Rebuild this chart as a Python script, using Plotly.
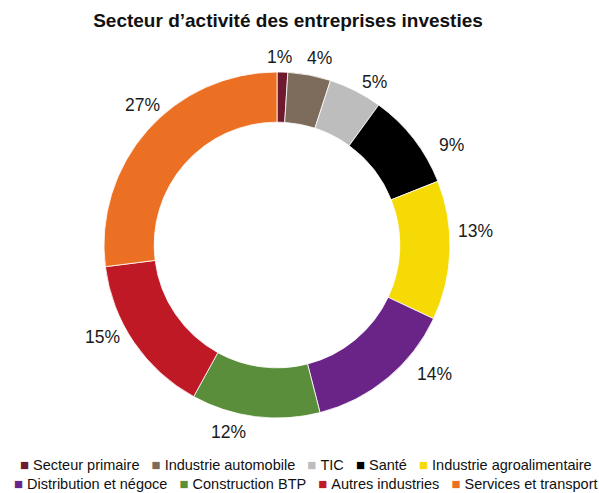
import math
import plotly.graph_objects as go

# Sector shares (%) of invested companies, clockwise from 12 o'clock
sectors = [
    "Secteur primaire",
    "Industrie automobile",
    "TIC",
    "Santé",
    "Industrie agroalimentaire",
    "Distribution et négoce",
    "Construction BTP",
    "Autres industries",
    "Services et transport",
]
shares = [1, 4, 5, 9, 13, 14, 12, 15, 27]

colors = [
    "#6E1A2E", "#7D6B5B", "#BDBDBD", "#000000", "#F6DA06",
    "#6A2386", "#5B8E3B", "#C01926", "#EB7023",
]

# label placement: angular nudge (deg) and distance from centre (px)
label_shift_deg = [-0.9, 2.1, 3.8, 7.9, -5.8, -11.0, 7.5, 6.3, 4.6]
label_radius = [188, 192, 190, 201, 199, 204, 193, 197, 194]

W, H = 599, 493
cx, cy, R = 277, 245, 173
FONT = "Liberation Sans, Arial, sans-serif"

fig = go.Figure(
    go.Pie(
        labels=sectors,
        values=shares,
        sort=False,
        direction="clockwise",
        rotation=0,
        hole=0.71,
        marker=dict(colors=colors, line=dict(color="white", width=0.8)),
        textinfo="none",
        hoverinfo="label+percent",
        showlegend=False,
        domain=dict(x=[(cx - R) / W, (cx + R) / W], y=[1 - (cy + R) / H, 1 - (cy - R) / H]),
    )
)

annotations = []
total = sum(shares)
cum = 0
for v, shift, r in zip(shares, label_shift_deg, label_radius):
    theta = math.radians(360 * (cum + v / 2) / total + shift)
    cum += v
    px = cx + r * math.sin(theta)
    py = cy - r * math.cos(theta)
    annotations.append(dict(
        x=px / W, y=1 - py / H, xref="paper", yref="paper",
        text=f"{v}%", showarrow=False, xanchor="center", yanchor="middle",
        font=dict(family=FONT, size=17.5, color="#1a1a1a"),
    ))

# two-row legend
rows = [sectors[:5], sectors[5:]]
row_colors = [colors[:5], colors[5:]]
row_y = [464, 483]
row_x = [306, 305]
for names, cols, y, x in zip(rows, row_colors, row_y, row_x):
    parts = [
        f"<span style='color:{c};font-size:15px'>■</span>\u00a0{n}"
        for n, c in zip(names, cols)
    ]
    annotations.append(dict(
        x=x / W, y=1 - y / H, xref="paper", yref="paper",
        text="\u00a0\u00a0\u00a0".join(parts), showarrow=False,
        xanchor="center", yanchor="middle",
        font=dict(family=FONT, size=14.5, color="#111111"),
    ))

fig.update_layout(
    width=W, height=H,
    margin=dict(l=0, r=0, t=0, b=0),
    paper_bgcolor="white",
    plot_bgcolor="white",
    title=dict(
        text="<b>Secteur d’activité des entreprises investies</b>",
        x=288 / W, xanchor="center",
        y=1 - 20 / H, yanchor="middle", yref="container",
        font=dict(family=FONT, size=19, color="#111111"),
    ),
    annotations=annotations,
)

fig.write_html("out.html")
